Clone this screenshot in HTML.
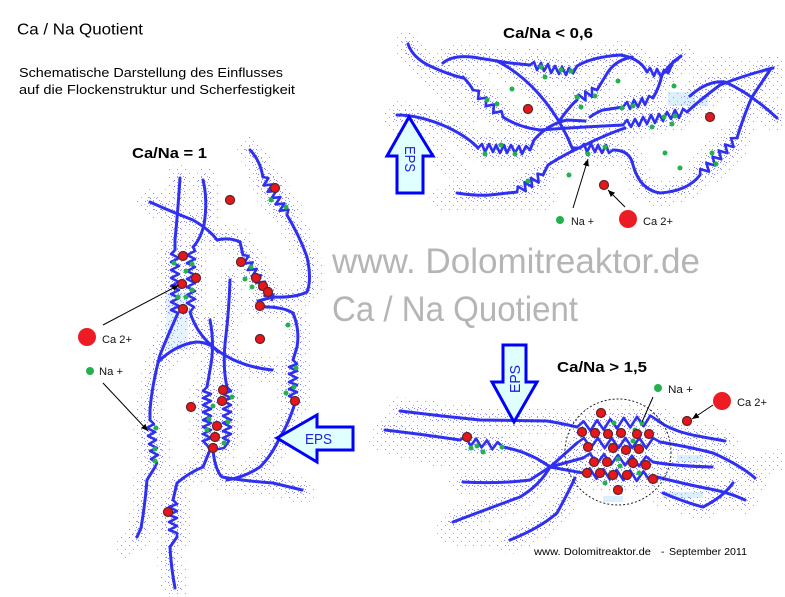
<!DOCTYPE html>
<html>
<head>
<meta charset="utf-8">
<style>
html,body{margin:0;padding:0;background:#fff;}
svg{display:block;}
text{font-family:"Liberation Sans",Arial,sans-serif;}
</style>
</head>
<body>
<svg width="785" height="597" viewBox="0 0 785 597" xmlns="http://www.w3.org/2000/svg">
<defs>
  <pattern id="s1" width="6" height="6" patternUnits="userSpaceOnUse">
    <rect x="0" y="0" width="1" height="1" fill="#8080ff"/>
    <rect x="3" y="2" width="1" height="1" fill="#9a9aff"/>
    <rect x="4" y="5" width="1" height="1" fill="#8888ff"/>
  </pattern>
  <pattern id="s2" width="8" height="8" patternUnits="userSpaceOnUse">
    <rect x="1" y="1" width="1" height="1" fill="#9090ff"/>
    <rect x="5" y="5" width="1" height="1" fill="#a6a6ff"/>
  </pattern>
  <marker id="ah" markerWidth="7" markerHeight="6" refX="7" refY="3" orient="auto" markerUnits="userSpaceOnUse">
    <path d="M0,0 L7,3 L0,6 z" fill="#000"/>
  </marker>

  <g id="fib">
    <!-- top cluster -->
    <path d="M408,44 Q413,58 430,66 T463,78"/>
    <path d="M443,63 Q452,55 472,57 L510,63 L530,65"/>
    <path d="M573,73 L577,66 Q592,57 620,55 Q640,58 647,72"/>
    <path d="M668,73 L673,62 L681,56"/>
    <path d="M497,61 C525,75 555,105 573,150"/>
    <path d="M463,77 Q470,84 473,90"/>
    <path d="M503,117 Q518,127 540,130 Q580,127 623,125"/>
    <path d="M687,112 Q700,100 720,85 Q745,75 773,68"/>
    <path d="M397,115 Q420,115 447,127 Q468,137 478,148"/>
    <path d="M530,150 L534,140 Q548,124 567,120 L585,121"/>
    <path d="M457,193 Q475,196 490,195 L517,192"/>
    <path d="M543,175 L548,165 Q565,154 585,145 Q605,135 625,128"/>
    <path d="M573,148 L580,148"/>
    <path d="M613,150 Q630,150 633,165 Q640,190 660,193 Q688,191 700,175"/>
    <path d="M737,138 Q744,115 752,97 L770,70"/>
    <path d="M690,96 Q708,80 725,82 Q750,93 777,118"/>
    <path d="M560,120 Q570,106 577,100"/>
    <path d="M597,90 Q603,80 608,72 Q616,60 632,57"/>
    <path d="M590,117 Q597,112 603,110 L623,107"/>
    <path d="M653,98 Q659,88 662,75 L670,65 L680,57"/>
    <!-- left cluster -->
    <path d="M180,178 Q178,210 175,240 L175,250"/>
    <path d="M178,313 Q168,335 160,355 Q152,385 150,410 L150,420"/>
    <path d="M155,467 L147,480 Q145,505 141,528 L137,537"/>
    <path d="M203,180 Q208,200 204,225 Q200,240 193,247"/>
    <path d="M190,312 Q196,332 212,346 Q235,366 272,370"/>
    <path d="M150,202 Q172,212 193,220 Q210,230 217,240 Q230,237 240,242 L243,255"/>
    <path d="M250,150 Q260,160 263,177"/>
    <path d="M287,215 Q300,237 307,257 Q312,280 307,292 Q295,298 273,297 L258,301"/>
    <path d="M258,307 Q282,306 293,313 Q300,330 297,347 L293,360"/>
    <path d="M295,403 Q288,425 280,437 Q272,455 260,467 Q245,477 227,480"/>
    <path d="M230,280 Q229,310 226,335 Q222,365 227,387"/>
    <path d="M158,362 Q175,345 196,342 Q210,342 218,352"/>
    <path d="M210,320 Q215,345 210,370 L207,387"/>
    <path d="M210,450 L203,467 Q190,472 177,483 L173,500"/>
    <path d="M177,537 L170,547 Q171,567 175,588"/>
    <path d="M213,450 Q215,470 222,477 Q245,481 273,483 L302,490"/>
    <!-- bottom right cluster -->
    <path d="M400,411 Q440,416 480,420 L547,421 Q565,424 577,427"/>
    <path d="M657,420 Q672,432 703,437 L725,441"/>
    <path d="M385,430 Q420,434 460,440"/>
    <path d="M503,447 Q530,452 550,467"/>
    <path d="M550,467 L577,443 M550,467 L583,458 M550,467 L583,473"/>
    <path d="M660,442 Q690,447 713,453 Q740,465 755,478"/>
    <path d="M653,462 Q675,466 712,467"/>
    <path d="M657,477 Q685,484 705,488 Q728,492 745,500"/>
    <path d="M663,493 Q687,503 703,507 Q723,497 733,483"/>
    <path d="M453,522 Q490,508 520,497 Q540,485 550,467"/>
    <path d="M463,482 Q500,484 530,480 L550,467"/>
    <path d="M510,540 Q540,528 557,513 Q567,495 575,478"/>
  </g>

  <g id="zz">
    <!-- top -->
    <polyline points="530,65 534,62 537,70 541,63 544,71 548,64 551,73 555,66 559,74 562,67 566,75 569,68 573,73"/>
    <polyline points="473,90 479,91 478,99 486.5,97.6 485.7,106.2 494,104.4 493.2,113 501.5,111.2 503,117"/>
    <polyline points="623,125 627,120 631,127 635,119 639,126 643,117 647,124 651,115 655,123 659,114 663,121 667,112 671,119 675,110 679,118 683,109 687,112"/>
    <polyline points="478,148 482,144 485,152 489,144 493,152 496,145 500,153 504,145 507,153 511,145 515,153 519,146 522,154 526,146 530,150"/>
    <polyline points="517,192 518,186.5 525.7,191.2 524.5,182.2 532.2,186.9 531,178 538.7,182.6 537.5,173.7 543,175"/>
    <polyline points="580,148 584,144 587,152 591,144 595,152 598,145 602,153 606,145 609,153 613,150"/>
    <polyline points="700,175 700.3,169.1 709,171.6 706.4,163 715.1,165.5 712.6,156.8 721.3,159.3 718.8,150.6 727.5,153.1 725,144.5 733.6,147 731.1,138.3 737,138"/>
    <polyline points="577,100 578.5,94.7 585.5,100.3 585.2,91.4 592.1,96.9 591.9,88.1 597,90"/>
    <polyline points="623,107 627,102 630,109 634,100 638,107 642,98 645,105 649,96 653,98"/>
    <polyline points="647,72 650,68 654,76 657,69 661,77 664,70 668,73"/>
    <!-- left -->
    <polyline points="175,250 171,254 179,258 171,262 179,266 171,270 179,274 171,278 179,282 171,286 179,290 171,294 179,298 171,302 179,306 171,310 178,313"/>
    <polyline points="193,247 195,251 187,255 195,259 187,263 195,267 187,271 195,275 187,279 195,283 187,287 195,291 187,295 195,299 187,303 194,307 190,312"/>
    <polyline points="243,255 248.5,256 243.7,263.6 252.6,262.4 247.9,270.1 256.8,268.9 252,276.5 260.9,275.3 256.2,282.9 265,281.7 260.3,289.3 269.2,288.2 264.5,295.8 273.3,294.6 272,300"/>
    <polyline points="263,177 268.4,178.1 263.6,185.4 272.4,184.4 267.6,191.8 276.4,190.7 271.6,198.1 280.4,197.1 275.6,204.4 284.4,203.4 279.6,210.8 288.4,209.7 287,215"/>
    <polyline points="293,360 297,364 289,367 297,371 289,374 297,378 289,382 297,385 289,389 297,392 289,396 297,400 295,403"/>
    <polyline points="207,387 203,391 211,394 203,398 211,401 203,405 211,409 203,412 211,416 203,420 211,423 203,427 211,430 203,434 211,438 203,441 207,445 210,450"/>
    <polyline points="227,387 231,391 223,394 231,398 223,401 231,405 223,409 231,412 223,416 231,420 223,423 231,427 223,431 231,434 223,438 229,441 224,448 213,450"/>
    <polyline points="150,420 154,424 147,428 155,432 148,436 156,440 149,444 157,448 150,451 158,455 151,459 157,463 155,467"/>
    <polyline points="173,500 177,504 169,507 177,511 169,515 177,518 169,522 177,526 169,530 177,533 177,537"/>
    <!-- bottom right -->
    <polyline points="577,427 583.7,421.4 590.3,430.8 597,420.3 603.7,429.7 610.3,419.1 617,428.5 623.7,417.9 630.3,427.4 637,416.8 643.7,426.2 650.3,415.6 657,420"/>
    <polyline points="577,443 583.9,438 590.8,448 597.8,438 604.7,448 611.6,438 618.5,448 625.4,438 632.3,448 639.3,438 646.2,448 653.1,438 660,442"/>
    <polyline points="583,458 590,453.4 597,463.8 604,454.2 611,464.6 618,455 625,465.4 632,455.8 639,466.2 646,456.6 653,462"/>
    <polyline points="583,473 589.7,468.4 596.5,478.7 603.2,469.1 609.9,479.5 616.6,469.8 623.4,480.2 630.1,470.5 636.8,480.9 643.5,471.3 650.3,481.6 657,477"/>
    <polyline points="460,440 465.4,436.9 470.8,445.8 476.1,438.6 481.5,447.5 486.9,440.4 492.3,449.25 497.6,442.1 503,447"/>
  </g>

  <g id="stx">
    <path d="M395,122 Q430,145 460,172 Q468,190 450,200"/>
    <path d="M440,200 Q500,205 547,200"/>
    <path d="M420,58 Q440,90 470,112"/>
    <path d="M700,70 Q740,60 775,90"/>
    <path d="M150,520 Q132,535 125,548"/>
    <path d="M168,300 L170,350"/>
    <path d="M380,440 Q470,470 560,470"/>
    <path d="M445,532 Q480,540 505,538"/>
    <path d="M690,480 Q740,470 780,460"/>
  </g>
</defs>

<rect width="785" height="597" fill="#fff"/>

<!-- light cyan patches -->
<g fill="#dcefff">
  <rect x="668" y="92" width="27" height="14"/>
  <rect x="700" y="96" width="8" height="10"/>
  <rect x="166" y="292" width="22" height="58" opacity="0.7"/>
  <rect x="677" y="455" width="26" height="7"/>
  <rect x="663" y="492" width="40" height="6"/>
  <rect x="603" y="496" width="20" height="6"/>
</g>

<!-- stipple layers -->
<use href="#fib" fill="none" stroke="url(#s2)" stroke-width="28" stroke-linecap="round" stroke-linejoin="round"/>
<use href="#zz" fill="none" stroke="url(#s2)" stroke-width="28" stroke-linecap="round" stroke-linejoin="round"/>
<use href="#stx" fill="none" stroke="url(#s2)" stroke-width="22" stroke-linecap="round"/>
<use href="#fib" fill="none" stroke="url(#s1)" stroke-width="12" stroke-linecap="round" stroke-linejoin="round"/>
<use href="#zz" fill="none" stroke="url(#s1)" stroke-width="14" stroke-linecap="round" stroke-linejoin="round"/>

<!-- fibers -->
<use href="#fib" fill="none" stroke="#3030f0" stroke-width="3" stroke-linecap="round" stroke-linejoin="round"/>
<use href="#zz" fill="none" stroke="#3030f0" stroke-width="2.6" stroke-linecap="round" stroke-linejoin="round"/>

<!-- dashed circle -->
<circle cx="618" cy="452" r="53" fill="none" stroke="#222" stroke-width="1" stroke-dasharray="2,2"/>

<!-- green Na dots -->
<g fill="#22b14c">
  <circle cx="541" cy="67" r="2.5"/><circle cx="561" cy="70" r="2.5"/><circle cx="571" cy="71" r="2.5"/>
  <circle cx="545" cy="77" r="2.5"/><circle cx="512" cy="89" r="2.5"/><circle cx="487" cy="100" r="2.5"/>
  <circle cx="497" cy="104" r="2.5"/><circle cx="618" cy="81" r="2.5"/><circle cx="577" cy="97" r="2.5"/>
  <circle cx="595" cy="96" r="2.5"/><circle cx="581" cy="107" r="2.5"/><circle cx="622" cy="108" r="2.5"/>
  <circle cx="633" cy="106" r="2.5"/><circle cx="674" cy="86" r="2.5"/><circle cx="664" cy="117" r="2.5"/>
  <circle cx="675" cy="116" r="2.5"/><circle cx="672" cy="124" r="2.5"/><circle cx="652" cy="127" r="2.5"/>
  <circle cx="501" cy="145" r="2.5"/><circle cx="485" cy="154" r="2.5"/><circle cx="515" cy="154" r="2.5"/>
  <circle cx="605" cy="147" r="2.5"/><circle cx="588" cy="154" r="2.5"/><circle cx="569" cy="175" r="2.5"/>
  <circle cx="528" cy="181" r="2.5"/><circle cx="665" cy="153" r="2.5"/><circle cx="680" cy="168" r="2.5"/>
  <circle cx="712" cy="153" r="2.5"/><circle cx="716" cy="164" r="2.5"/>

  <circle cx="174" cy="263" r="2.5"/><circle cx="192" cy="264" r="2.5"/><circle cx="186" cy="271" r="2.5"/>
  <circle cx="192" cy="290" r="2.5"/><circle cx="178" cy="297" r="2.5"/><circle cx="186" cy="297" r="2.5"/>
  <circle cx="271" cy="200" r="2.5"/><circle cx="286" cy="207" r="2.5"/><circle cx="251" cy="267" r="2.5"/>
  <circle cx="245" cy="279" r="2.5"/><circle cx="252" cy="287" r="2.5"/><circle cx="288" cy="325" r="2.5"/>
  <circle cx="296" cy="368" r="2.5"/><circle cx="294" cy="387" r="2.5"/><circle cx="286" cy="393" r="2.5"/>
  <circle cx="213" cy="406" r="2.5"/><circle cx="232" cy="397" r="2.5"/><circle cx="209" cy="419" r="2.5"/>
  <circle cx="228" cy="422" r="2.5"/><circle cx="207" cy="430" r="2.5"/><circle cx="224" cy="443" r="2.5"/>
  <circle cx="156" cy="428" r="2.5"/><circle cx="155" cy="449" r="2.5"/><circle cx="155" cy="461" r="2.5"/>

  <circle cx="614" cy="423" r="2.5"/><circle cx="635" cy="430" r="2.5"/><circle cx="642" cy="423" r="2.5"/>
  <circle cx="633" cy="441" r="2.5"/><circle cx="618" cy="459" r="2.5"/><circle cx="620" cy="466" r="2.5"/>
  <circle cx="639" cy="473" r="2.5"/><circle cx="605" cy="483" r="2.5"/><circle cx="471" cy="448" r="2.5"/>
  <circle cx="477" cy="446" r="2.5"/><circle cx="483" cy="452" r="2.5"/><circle cx="502" cy="447" r="2.5"/>
</g>

<!-- red Ca dots -->
<g fill="#e8161c" stroke="#5a2626" stroke-width="1.2">
  <circle cx="528" cy="109" r="4.5"/><circle cx="710" cy="117" r="4.5"/><circle cx="604" cy="185" r="4.5"/>

  <circle cx="230" cy="200" r="4.5"/><circle cx="275" cy="188" r="4.5"/><circle cx="183" cy="256" r="4.5"/>
  <circle cx="196" cy="278" r="4.5"/><circle cx="182" cy="284" r="4.5"/><circle cx="183" cy="309" r="4.5"/>
  <circle cx="241" cy="262" r="4.5"/><circle cx="256" cy="278" r="4.5"/><circle cx="263" cy="286" r="4.5"/>
  <circle cx="268" cy="292" r="4.5"/><circle cx="260" cy="306" r="4.5"/><circle cx="260" cy="339" r="4.5"/>
  <circle cx="191" cy="407" r="4.5"/><circle cx="295" cy="401" r="4.5"/><circle cx="223" cy="390" r="4.5"/>
  <circle cx="222" cy="401" r="4.5"/><circle cx="217" cy="426" r="4.5"/><circle cx="215" cy="437" r="4.5"/>
  <circle cx="213" cy="448" r="4.5"/><circle cx="168" cy="512" r="4.5"/>

  <circle cx="467" cy="437" r="4.5"/><circle cx="601" cy="413" r="4.5"/><circle cx="582" cy="432" r="4.5"/>
  <circle cx="595" cy="433" r="4.5"/><circle cx="608" cy="434" r="4.5"/><circle cx="621" cy="433" r="4.5"/>
  <circle cx="637" cy="434" r="4.5"/><circle cx="649" cy="434" r="4.5"/><circle cx="588" cy="447" r="4.5"/>
  <circle cx="613" cy="448" r="4.5"/><circle cx="626" cy="450" r="4.5"/><circle cx="639" cy="449" r="4.5"/>
  <circle cx="594" cy="462" r="4.5"/><circle cx="607" cy="462" r="4.5"/><circle cx="633" cy="463" r="4.5"/>
  <circle cx="646" cy="465" r="4.5"/><circle cx="587" cy="473" r="4.5"/><circle cx="600" cy="473" r="4.5"/>
  <circle cx="613" cy="475" r="4.5"/><circle cx="627" cy="475" r="4.5"/><circle cx="653" cy="479" r="4.5"/>
  <circle cx="618" cy="490" r="4.5"/><circle cx="687" cy="421" r="4.5"/>
</g>

<!-- EPS arrows -->
<g fill="#e0ffff" stroke="#0000ff" stroke-width="3" stroke-linejoin="miter">
  <polygon points="409,117 433,156 423,156 423,193 397,193 397,156 387,156"/>
  <polygon points="277,438 317,415 317,427 353,427 353,450 317,450 317,462"/>
  <polygon points="503,345 526,345 526,382 537,382 514,422 492,382 503,382"/>
</g>
<g fill="#2020e0" font-size="15">
  <text transform="translate(405,159) rotate(90)" text-anchor="middle" textLength="26" lengthAdjust="spacingAndGlyphs">EPS</text>
  <text x="305" y="444" textLength="27" lengthAdjust="spacingAndGlyphs">EPS</text>
  <text transform="translate(520,379) rotate(-90)" text-anchor="middle" textLength="28" lengthAdjust="spacingAndGlyphs">EPS</text>
</g>

<!-- connectors -->
<g stroke="#000" stroke-width="1" fill="none">
  <line x1="573" y1="208" x2="588" y2="159" marker-end="url(#ah)"/>
  <line x1="625" y1="207" x2="608" y2="190" marker-end="url(#ah)"/>
  <line x1="103" y1="325" x2="179" y2="285" marker-end="url(#ah)"/>
  <line x1="103" y1="383" x2="148" y2="431" marker-end="url(#ah)"/>
  <line x1="653" y1="397" x2="642" y2="422"/>
  <line x1="713" y1="405" x2="692" y2="419" marker-end="url(#ah)"/>
</g>

<!-- legends -->
<circle cx="560" cy="220" r="4" fill="#22b14c"/>
<circle cx="628" cy="219" r="9" fill="#ed1c24"/>
<circle cx="87" cy="337" r="9" fill="#ed1c24"/>
<circle cx="90" cy="371" r="4" fill="#22b14c"/>
<circle cx="658" cy="388" r="4" fill="#22b14c"/>
<circle cx="722" cy="401" r="9" fill="#ed1c24"/>
<g fill="#111" font-size="11">
  <text x="571" y="225" textLength="23" lengthAdjust="spacingAndGlyphs">Na +</text>
  <text x="643" y="225" textLength="30" lengthAdjust="spacingAndGlyphs">Ca 2+</text>
  <text x="102" y="343" textLength="30" lengthAdjust="spacingAndGlyphs">Ca 2+</text>
  <text x="99" y="375" textLength="24" lengthAdjust="spacingAndGlyphs">Na +</text>
  <text x="668" y="393" textLength="25" lengthAdjust="spacingAndGlyphs">Na +</text>
  <text x="737" y="406" textLength="30" lengthAdjust="spacingAndGlyphs">Ca 2+</text>
</g>

<!-- headings -->
<g fill="#000">
  <text x="17" y="34.5" font-size="16" textLength="126" lengthAdjust="spacingAndGlyphs">Ca / Na Quotient</text>
  <text x="19" y="77" font-size="13" textLength="264" lengthAdjust="spacingAndGlyphs">Schematische Darstellung des Einflusses</text>
  <text x="19" y="94" font-size="13" textLength="276" lengthAdjust="spacingAndGlyphs">auf die Flockenstruktur und Scherfestigkeit</text>
  <text x="503" y="38" font-size="15" font-weight="bold" textLength="90" lengthAdjust="spacingAndGlyphs">Ca/Na &lt; 0,6</text>
  <text x="132" y="158" font-size="15" font-weight="bold" textLength="75" lengthAdjust="spacingAndGlyphs">Ca/Na = 1</text>
  <text x="557" y="372" font-size="15" font-weight="bold" textLength="90" lengthAdjust="spacingAndGlyphs">Ca/Na &gt; 1,5</text>
  <text x="534" y="555" font-size="10.5" textLength="117" lengthAdjust="spacingAndGlyphs">www. Dolomitreaktor.de</text>
  <text x="661" y="555" font-size="10.5">-</text>
  <text x="669" y="555" font-size="10.5" textLength="78" lengthAdjust="spacingAndGlyphs">September 2011</text>
</g>

<!-- watermark -->
<g fill="#b5b5b5" font-size="35">
  <text x="332" y="273" textLength="368" lengthAdjust="spacingAndGlyphs">www. Dolomitreaktor.de</text>
  <text x="332" y="321" textLength="246" lengthAdjust="spacingAndGlyphs">Ca / Na Quotient</text>
</g>
</svg>
</body>
</html>
